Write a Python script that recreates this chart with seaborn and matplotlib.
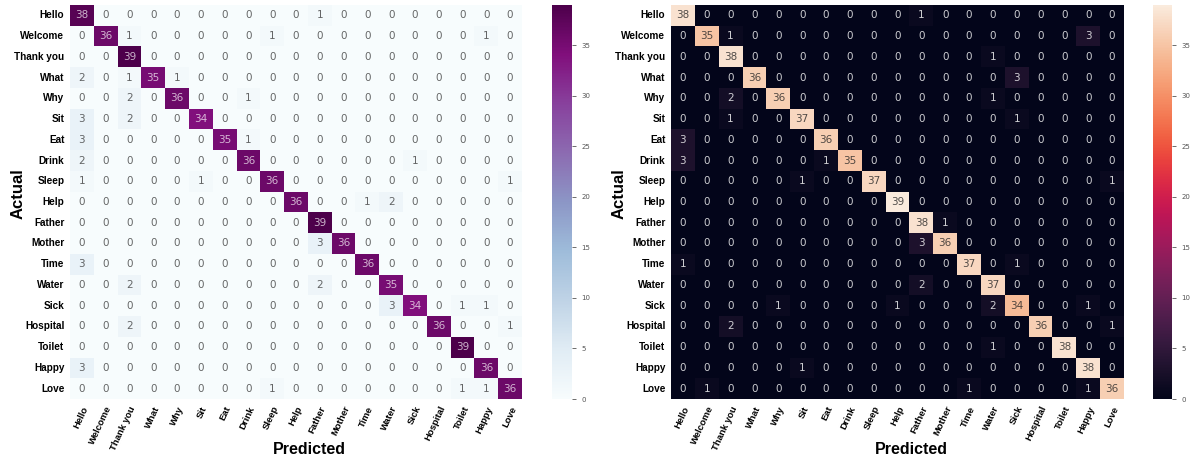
import numpy as np
import pandas as pd
import matplotlib
matplotlib.use("Agg")
import matplotlib.pyplot as plt
import seaborn as sns

labels = ["Hello", "Welcome", "Thank you", "What", "Why", "Sit", "Eat", "Drink",
          "Sleep", "Help", "Father", "Mother", "Time", "Water", "Sick",
          "Hospital", "Toilet", "Happy", "Love"]

cm_left = [
    [38, 0, 0, 0, 0, 0, 0, 0, 0, 0, 1, 0, 0, 0, 0, 0, 0, 0, 0],
    [0, 36, 1, 0, 0, 0, 0, 0, 1, 0, 0, 0, 0, 0, 0, 0, 0, 1, 0],
    [0, 0, 39, 0, 0, 0, 0, 0, 0, 0, 0, 0, 0, 0, 0, 0, 0, 0, 0],
    [2, 0, 1, 35, 1, 0, 0, 0, 0, 0, 0, 0, 0, 0, 0, 0, 0, 0, 0],
    [0, 0, 2, 0, 36, 0, 0, 1, 0, 0, 0, 0, 0, 0, 0, 0, 0, 0, 0],
    [3, 0, 2, 0, 0, 34, 0, 0, 0, 0, 0, 0, 0, 0, 0, 0, 0, 0, 0],
    [3, 0, 0, 0, 0, 0, 35, 1, 0, 0, 0, 0, 0, 0, 0, 0, 0, 0, 0],
    [2, 0, 0, 0, 0, 0, 0, 36, 0, 0, 0, 0, 0, 0, 1, 0, 0, 0, 0],
    [1, 0, 0, 0, 0, 1, 0, 0, 36, 0, 0, 0, 0, 0, 0, 0, 0, 0, 1],
    [0, 0, 0, 0, 0, 0, 0, 0, 0, 36, 0, 0, 1, 2, 0, 0, 0, 0, 0],
    [0, 0, 0, 0, 0, 0, 0, 0, 0, 0, 39, 0, 0, 0, 0, 0, 0, 0, 0],
    [0, 0, 0, 0, 0, 0, 0, 0, 0, 0, 3, 36, 0, 0, 0, 0, 0, 0, 0],
    [3, 0, 0, 0, 0, 0, 0, 0, 0, 0, 0, 0, 36, 0, 0, 0, 0, 0, 0],
    [0, 0, 2, 0, 0, 0, 0, 0, 0, 0, 2, 0, 0, 35, 0, 0, 0, 0, 0],
    [0, 0, 0, 0, 0, 0, 0, 0, 0, 0, 0, 0, 0, 3, 34, 0, 1, 1, 0],
    [0, 0, 2, 0, 0, 0, 0, 0, 0, 0, 0, 0, 0, 0, 0, 36, 0, 0, 1],
    [0, 0, 0, 0, 0, 0, 0, 0, 0, 0, 0, 0, 0, 0, 0, 0, 39, 0, 0],
    [3, 0, 0, 0, 0, 0, 0, 0, 0, 0, 0, 0, 0, 0, 0, 0, 0, 36, 0],
    [0, 0, 0, 0, 0, 0, 0, 0, 1, 0, 0, 0, 0, 0, 0, 0, 1, 1, 36],
]

cm_right = [
    [38, 0, 0, 0, 0, 0, 0, 0, 0, 0, 1, 0, 0, 0, 0, 0, 0, 0, 0],
    [0, 35, 1, 0, 0, 0, 0, 0, 0, 0, 0, 0, 0, 0, 0, 0, 0, 3, 0],
    [0, 0, 38, 0, 0, 0, 0, 0, 0, 0, 0, 0, 0, 1, 0, 0, 0, 0, 0],
    [0, 0, 0, 36, 0, 0, 0, 0, 0, 0, 0, 0, 0, 0, 3, 0, 0, 0, 0],
    [0, 0, 2, 0, 36, 0, 0, 0, 0, 0, 0, 0, 0, 1, 0, 0, 0, 0, 0],
    [0, 0, 1, 0, 0, 37, 0, 0, 0, 0, 0, 0, 0, 0, 1, 0, 0, 0, 0],
    [3, 0, 0, 0, 0, 0, 36, 0, 0, 0, 0, 0, 0, 0, 0, 0, 0, 0, 0],
    [3, 0, 0, 0, 0, 0, 1, 35, 0, 0, 0, 0, 0, 0, 0, 0, 0, 0, 0],
    [0, 0, 0, 0, 0, 1, 0, 0, 37, 0, 0, 0, 0, 0, 0, 0, 0, 0, 1],
    [0, 0, 0, 0, 0, 0, 0, 0, 0, 39, 0, 0, 0, 0, 0, 0, 0, 0, 0],
    [0, 0, 0, 0, 0, 0, 0, 0, 0, 0, 38, 1, 0, 0, 0, 0, 0, 0, 0],
    [0, 0, 0, 0, 0, 0, 0, 0, 0, 0, 3, 36, 0, 0, 0, 0, 0, 0, 0],
    [1, 0, 0, 0, 0, 0, 0, 0, 0, 0, 0, 0, 37, 0, 1, 0, 0, 0, 0],
    [0, 0, 0, 0, 0, 0, 0, 0, 0, 0, 2, 0, 0, 37, 0, 0, 0, 0, 0],
    [0, 0, 0, 0, 1, 0, 0, 0, 0, 1, 0, 0, 0, 2, 34, 0, 0, 1, 0],
    [0, 0, 2, 0, 0, 0, 0, 0, 0, 0, 0, 0, 0, 0, 0, 36, 0, 0, 1],
    [0, 0, 0, 0, 0, 0, 0, 0, 0, 0, 0, 0, 0, 1, 0, 0, 38, 0, 0],
    [0, 0, 0, 0, 0, 1, 0, 0, 0, 0, 0, 0, 0, 0, 0, 0, 0, 38, 0],
    [0, 1, 0, 0, 0, 0, 0, 0, 0, 0, 0, 0, 1, 0, 0, 0, 0, 1, 36],
]

W, H = 1192, 462
fig = plt.figure(figsize=(W / 100, H / 100), dpi=100)

def box(x0, y0, x1, y1):
    return [x0 / W, 1 - y1 / H, (x1 - x0) / W, (y1 - y0) / H]

panels = [
    (cm_left, "BuPu", 0.7, box(70, 5, 522, 399), box(552, 5, 572, 399)),
    (cm_right, "rocket", 0.8, box(671, 5, 1124, 399), box(1153, 5, 1172, 399)),
]

label_font = ["Liberation Sans", "DejaVu Sans"]

for data, cmap, txt_alpha, axpos, cbpos in panels:
    df = pd.DataFrame(data, index=labels, columns=labels)
    ax = fig.add_axes(axpos)
    cax = fig.add_axes(cbpos)
    sns.heatmap(df, ax=ax, cbar_ax=cax, cmap=cmap, annot=True, fmt="d",
                annot_kws={"fontsize": 7.5}, square=False)
    for t in ax.texts:
        t.set_alpha(txt_alpha)
    ax.set_yticks(np.arange(len(labels)) + 0.5)
    ax.set_yticklabels(labels, rotation=0, fontsize=7.2, fontweight="bold",
                       family=label_font)
    ax.set_xticks(np.arange(len(labels)) + 0.5)
    ax.set_xticklabels(labels, rotation=65, ha="right", rotation_mode="anchor",
                       fontsize=6.8, fontweight="bold", family=label_font)
    ax.tick_params(axis="both", length=0, pad=4)
    ax.set_xlabel("Predicted", fontsize=11.5, fontweight="bold", family=label_font)
    ax.xaxis.set_label_coords(0.53, -0.127)
    ax.xaxis.label.set_va("center")
    ax.set_ylabel("Actual", fontsize=12, fontweight="bold", family=label_font)
    ax.yaxis.set_label_coords(-0.115, 0.52)
    ax.yaxis.label.set_va("center")
    cax.tick_params(labelsize=5, length=3, width=0.6, colors="#555555")
    cax.set_yticks([0, 5, 10, 15, 20, 25, 30, 35])

fig.savefig("out.png", dpi=100)
